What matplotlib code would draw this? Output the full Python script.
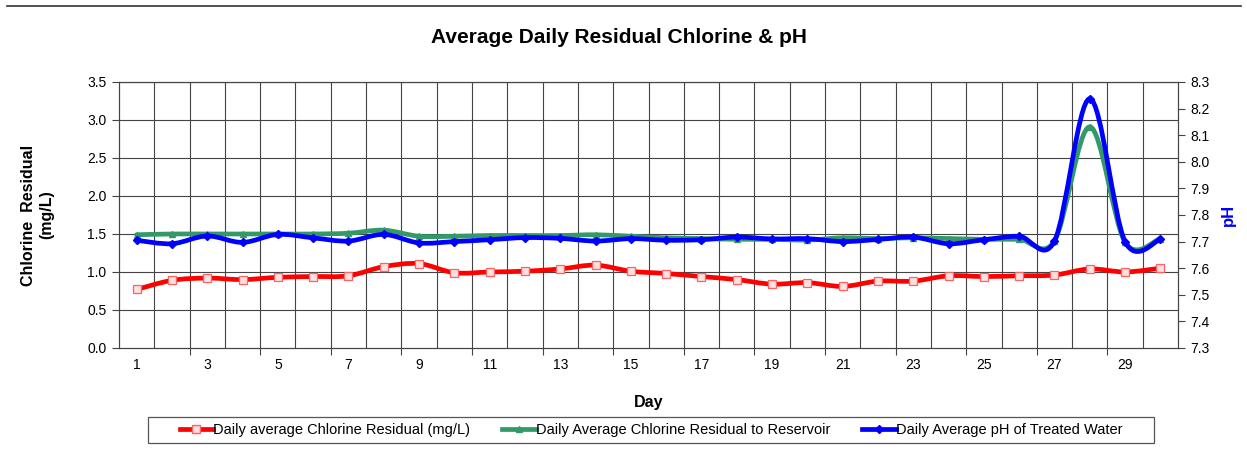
import numpy as np
import matplotlib
matplotlib.use("Agg")
import matplotlib.pyplot as plt
from matplotlib.path import Path
from matplotlib.patches import PathPatch, Rectangle
from matplotlib.lines import Line2D

plt.rcParams["font.family"] = ["Liberation Sans", "DejaVu Sans"]

DAYS = list(range(1, 31))

CL_RESIDUAL = [0.77, 0.89, 0.92, 0.90, 0.93, 0.94, 0.95, 1.07, 1.11, 0.99,
               1.00, 1.01, 1.04, 1.09, 1.01, 0.98, 0.94, 0.90, 0.84, 0.86,
               0.81, 0.88, 0.88, 0.95, 0.94, 0.95, 0.96, 1.04, 1.00, 1.05]

CL_RESERVOIR = [1.49, 1.50, 1.50, 1.50, 1.50, 1.50, 1.51, 1.55, 1.47, 1.47,
                1.48, 1.48, 1.48, 1.49, 1.47, 1.45, 1.44, 1.43, 1.43, 1.42,
                1.45, 1.44, 1.45, 1.44, 1.43, 1.43, 1.41, 2.91, 1.39, 1.44]

PH_TREATED = [7.705, 7.692, 7.721, 7.697, 7.727, 7.714, 7.702, 7.727, 7.695, 7.700,
              7.707, 7.715, 7.712, 7.702, 7.711, 7.705, 7.707, 7.717, 7.710, 7.711,
              7.700, 7.708, 7.717, 7.692, 7.707, 7.720, 7.702, 8.237, 7.700, 7.708]

LABELS = ["Daily average Chlorine Residual (mg/L)",
          "Daily Average Chlorine Residual to Reservoir",
          "Daily Average pH of Treated Water"]

RED = "#ff0000"
GREEN = "#339966"
BLUE = "#0000ff"
GRID = "#444444"


def smooth_path(xs, ys):
    """Excel-style smoothed line: cubic Bezier through every point."""
    x = np.asarray(xs, float)
    y = np.asarray(ys, float)
    n = len(x)
    verts = [(x[0], y[0])]
    codes = [Path.MOVETO]
    for i in range(n - 1):
        i0 = max(i - 1, 0)
        i3 = min(i + 2, n - 1)
        c1 = (x[i] + (x[i + 1] - x[i0]) / 6, y[i] + (y[i + 1] - y[i0]) / 6)
        c2 = (x[i + 1] - (x[i3] - x[i]) / 6, y[i + 1] - (y[i3] - y[i]) / 6)
        verts += [c1, c2, (x[i + 1], y[i + 1])]
        codes += [Path.CURVE4] * 3
    return Path(verts, codes)


fig = plt.figure(figsize=(12.47, 4.58), dpi=100)
ax = fig.add_axes([0.0954, 0.2402, 0.8493, 0.5808])
ax2 = ax.twinx()

# frame line across the top of the picture
fig.add_artist(Line2D([0.006, 0.995], [0.987, 0.987], color="#333333", lw=1.2))

ax.set_xlim(0.5, 30.5)
ax.set_ylim(0, 3.5)
ax2.set_ylim(7.3, 8.3)

# grid
for b in np.arange(1.5, 30, 1.0):
    ax.axvline(b, color=GRID, lw=0.8, zorder=1)
for v in np.arange(0.5, 3.51, 0.5):
    ax.axhline(v, color=GRID, lw=0.8, zorder=1)

# series
ax.add_patch(PathPatch(smooth_path(DAYS, CL_RESIDUAL), fill=False, ec=RED,
                       lw=3.4, capstyle="round", joinstyle="round", zorder=3))
ax.plot(DAYS, CL_RESIDUAL, ls="none", marker="s", ms=6, mfc="#ffe0e0",
        mec="#ff6060", mew=0.9, zorder=4)
ax.add_patch(PathPatch(smooth_path(DAYS, CL_RESERVOIR), fill=False, ec=GREEN,
                       lw=3.4, capstyle="round", joinstyle="round", zorder=3))
ax.plot(DAYS, CL_RESERVOIR, ls="none", marker="^", ms=5, color=GREEN, zorder=4)
ax2.add_patch(PathPatch(smooth_path(DAYS, PH_TREATED), fill=False, ec=BLUE,
                        lw=3.4, capstyle="round", joinstyle="round", zorder=3))
ax2.plot(DAYS, PH_TREATED, ls="none", marker="D", ms=4, color=BLUE, zorder=4)

# axes / ticks
ax.set_yticks(np.arange(0, 3.51, 0.5))
ax.set_yticklabels([f"{v:.1f}" for v in np.arange(0, 3.51, 0.5)])
ax2.set_yticks(np.arange(7.3, 8.31, 0.1))
ax2.set_yticklabels([f"{v:.1f}" for v in np.arange(7.3, 8.31, 0.1)])
ax.set_xticks(np.arange(2.5, 30, 2.0))
ax.set_xticklabels([])
ax.set_xticks(range(1, 30, 2), minor=True)
ax.set_xticklabels([str(d) for d in range(1, 30, 2)], minor=True)
ax.tick_params(axis="x", which="major", length=5, color=GRID)
ax.tick_params(axis="x", which="minor", length=0, pad=7, labelsize=10)
ax.tick_params(axis="y", length=5, color=GRID, labelsize=10, pad=4)
ax2.tick_params(axis="y", length=5, color=GRID, labelsize=10, pad=4)
for a in (ax, ax2):
    for s in a.spines.values():
        s.set_color(GRID)
        s.set_linewidth(0.8)

fig.text(0.496, 0.919, "Average Daily Residual Chlorine & pH", fontsize=15,
         fontweight="bold", ha="center", va="center")
ax.set_xlabel("Day", fontsize=11.5, fontweight="bold", labelpad=17)
ax.set_ylabel("Chlorine  Residual\n(mg/L)", fontsize=11.5, fontweight="bold",
              labelpad=24)
ax2.set_ylabel("pH", fontsize=12, fontweight="bold", color=BLUE, labelpad=8)

# legend: box drawn separately, entries laid out by matplotlib
fig.add_artist(Rectangle((148 / 1247, (458 - 443) / 458), 1006 / 1247, 26 / 458,
                         transform=fig.transFigure, fill=False,
                         ec="#555555", lw=0.9))
handles = [
    Line2D([], [], color=RED, lw=3.4, marker="s", ms=6, mfc="#ffe0e0", mec="#ff6060"),
    Line2D([], [], color=GREEN, lw=3.4, marker="^", ms=5),
    Line2D([], [], color=BLUE, lw=3.4, marker="D", ms=4),
]
leg = fig.legend(handles, LABELS, loc="center", bbox_to_anchor=(0.522, 0.061),
                 ncol=3, fontsize=10.5, frameon=False,
                 handlelength=2.3, handletextpad=0.0, columnspacing=2.2)

fig.savefig("out.png", dpi=100)
